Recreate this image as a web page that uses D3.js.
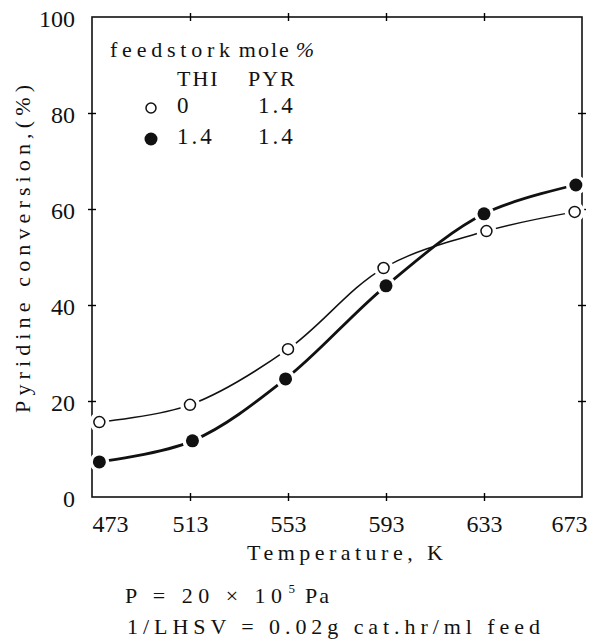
<!DOCTYPE html>
<html>
<head>
<meta charset="utf-8">
<script src="https://cdn.jsdelivr.net/npm/d3@7"></script>
<style>
  body { margin: 0; background: #fff; }
</style>
</head>
<body>
<script>
// values
var xTicks = [473, 513, 553, 593, 633, 673];
var yTicks = [0, 20, 40, 60, 80, 100];

var tempOpen   = [476, 513, 553, 592, 634, 670];
var convOpen   = [15.6, 19.2, 30.8, 47.7, 55.4, 59.4];
var tempFilled = [476, 514, 552, 593, 633, 670.5];
var convFilled = [7.3, 11.7, 24.6, 44.0, 59.0, 65.0];

var legendHead = ['THI', 'PYR'];
var legendThi  = ['0', '1.4'];
var legendPyr  = ['1.4', '1.4'];
var legendFill = [false, true];

var SERIF = "'Liberation Serif', 'Times New Roman', 'DejaVu Serif', serif";
var W = 601, H = 643;
var svg = d3.select('body').append('svg').attr('width', W).attr('height', H)
            .style('font-family', SERIF);

var x = d3.scaleLinear().domain([473, 673]).range([92, 582]);
var y = d3.scaleLinear().domain([0, 100]).range([497, 17]);

// frame
svg.append('rect')
   .attr('x', x(473)).attr('y', y(100))
   .attr('width', x(673) - x(473)).attr('height', y(0) - y(100))
   .attr('fill', 'none').attr('stroke', '#111').attr('stroke-width', 1.6);

// bottom axis: labels + crossing ticks
var axBottom = svg.append('g').attr('transform', 'translate(0,' + y(0) + ')')
  .call(d3.axisBottom(x).tickValues(xTicks).tickSize(4).tickPadding(14).tickFormat(d3.format('d')))
  .attr('font-family', SERIF);
axBottom.select('.domain').remove();
axBottom.selectAll('line').attr('y1', -4).attr('y2', 4).attr('stroke-width', 1.4)
  .filter(function (d) { return d === 473 || d === 673; }).remove();
axBottom.selectAll('text').attr('font-size', 24).attr('fill', '#111')
  .attr('dx', function (d) { return d === 473 ? 18 : d === 673 ? -13 : 0; });

// top axis ticks
var axTop = svg.append('g').attr('transform', 'translate(0,' + y(100) + ')')
  .call(d3.axisTop(x).tickValues(xTicks.slice(1, -1)).tickSize(4).tickFormat(''));
axTop.select('.domain').remove();
axTop.selectAll('line').attr('y1', -4).attr('y2', 4).attr('stroke-width', 1.4);

// left axis
var axLeft = svg.append('g').attr('transform', 'translate(' + x(473) + ',0)')
  .call(d3.axisLeft(y).tickValues(yTicks).tickSize(4).tickPadding(13))
  .attr('font-family', SERIF);
axLeft.select('.domain').remove();
axLeft.selectAll('line').attr('x1', -4).attr('x2', 4).attr('stroke-width', 1.4)
  .filter(function (d) { return d === 0 || d === 100; }).remove();
axLeft.selectAll('text').attr('font-size', 24).attr('fill', '#111').attr('dy', '0.4em');

// right axis ticks
var axRight = svg.append('g').attr('transform', 'translate(' + x(673) + ',0)')
  .call(d3.axisRight(y).tickValues(yTicks.slice(1, -1)).tickSize(4).tickFormat(''));
axRight.select('.domain').remove();
axRight.selectAll('line').attr('x1', -4).attr('x2', 4).attr('stroke-width', 1.4);

// axis titles
svg.append('text')
   .attr('transform', 'translate(30,' + 249 + ') rotate(-90)')
   .attr('text-anchor', 'middle').attr('font-size', 22).attr('fill', '#111')
   .attr('textLength', 328).attr('lengthAdjust', 'spacing')
   .text('Pyridine conversion,(%)');

svg.append('text')
   .attr('x', 247).attr('y', 560).attr('font-size', 22).attr('fill', '#111')
   .attr('textLength', 196).attr('lengthAdjust', 'spacing')
   .text('Temperature, K');

// conditions under the chart
var cond1 = svg.append('text').attr('x', 125).attr('y', 603).attr('font-size', 22).attr('fill', '#111');
cond1.append('tspan').attr('textLength', 157).attr('lengthAdjust', 'spacing').text('P = 20 \u00d7 10');
cond1.append('tspan').attr('font-size', 13).attr('dy', -10).attr('dx', 1).text('5');
cond1.append('tspan').attr('dy', 10).attr('dx', 10).attr('letter-spacing', 2).text('Pa');

svg.append('text')
   .attr('x', 127).attr('y', 634).attr('font-size', 22).attr('fill', '#111')
   .attr('textLength', 413).attr('lengthAdjust', 'spacing')
   .text('1/LHSV = 0.02g cat.hr/ml feed');

// curves
var line = d3.line()
  .x(function (d) { return x(d[0]); })
  .y(function (d) { return y(d[1]); })
  .curve(d3.curveCatmullRom.alpha(0.5));

var ptsOpen = d3.zip(tempOpen, convOpen);
var ptsFilled = d3.zip(tempFilled, convFilled);

svg.append('path').datum(ptsOpen).attr('d', line)
   .attr('fill', 'none').attr('stroke', '#111').attr('stroke-width', 1.5);
svg.append('path').datum(ptsFilled).attr('d', line)
   .attr('fill', 'none').attr('stroke', '#111').attr('stroke-width', 2.8);

// white gaps round the markers
svg.append('g').selectAll('circle').data(ptsOpen.concat(ptsFilled)).join('circle')
   .attr('cx', function (d) { return x(d[0]); })
   .attr('cy', function (d) { return y(d[1]); })
   .attr('r', 10).attr('fill', '#fff');

svg.append('g').selectAll('circle').data(ptsOpen).join('circle')
   .attr('cx', function (d) { return x(d[0]); })
   .attr('cy', function (d) { return y(d[1]); })
   .attr('r', 5.5).attr('fill', '#fff').attr('stroke', '#111').attr('stroke-width', 1.5);
svg.append('g').selectAll('circle').data(ptsFilled).join('circle')
   .attr('cx', function (d) { return x(d[0]); })
   .attr('cy', function (d) { return y(d[1]); })
   .attr('r', 6.5).attr('fill', '#111');

// legend
var lg = svg.append('g');
var head = lg.append('text').attr('x', 110).attr('y', 57).attr('font-size', 22).attr('fill', '#111');
head.append('tspan').attr('textLength', 120).attr('lengthAdjust', 'spacing').text('feedstork');
head.append('tspan').attr('dx', 4).attr('textLength', 50).attr('lengthAdjust', 'spacing').text('mole');
head.append('tspan').attr('dx', 5).attr('font-style', 'italic').text('%');

lg.selectAll('text.hd').data(legendHead).join('text').attr('class', 'hd')
  .attr('x', function (d, i) { return i === 0 ? 177 : 248; })
  .attr('y', 86).attr('font-size', 22).attr('fill', '#111').attr('letter-spacing', 2)
  .text(function (d) { return d; });

legendThi.forEach(function (t, i) {
  var yy = 113 + i * 31;
  lg.append('circle').attr('cx', 151).attr('cy', yy - 5)
    .attr('r', legendFill[i] ? 6.5 : 5)
    .attr('fill', legendFill[i] ? '#111' : '#fff')
    .attr('stroke', '#111').attr('stroke-width', legendFill[i] ? 0 : 1.5);
  lg.append('text').attr('x', 177).attr('y', yy).attr('font-size', 23).attr('fill', '#111')
    .attr('letter-spacing', 3).text(t);
  lg.append('text').attr('x', 258).attr('y', yy).attr('font-size', 23).attr('fill', '#111')
    .attr('letter-spacing', 3).text(legendPyr[i]);
});
</script>
</body>
</html>
